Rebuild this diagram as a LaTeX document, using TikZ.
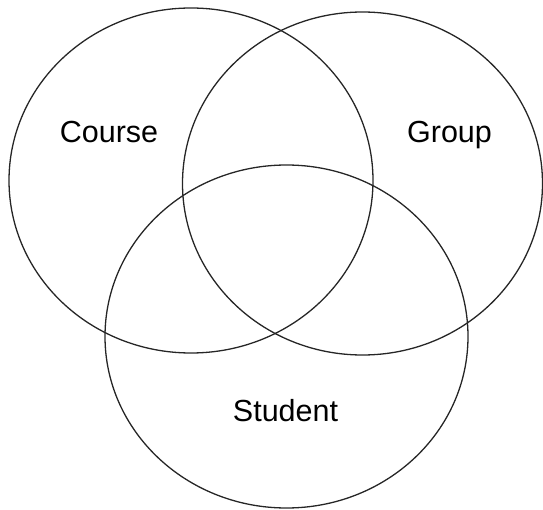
\documentclass[tikz,border=0pt]{standalone}
\usepackage{fontspec}
\setmainfont{Liberation Sans}
\begin{document}
\begin{tikzpicture}[x=1pt,y=-1pt,
  set/.style={draw=black!85,line width=1.3pt},
  lbl/.style={font=\fontsize{30.5}{36}\selectfont,inner sep=0pt,anchor=base}]
\useasboundingbox (0,0) rectangle (543,510);
\draw[set] (191,180.5) ellipse [x radius=182, y radius=172.5];
\draw[set] (362.5,183.5) ellipse [x radius=180, y radius=171.5];
\draw[set] (286.5,336.5) ellipse [x radius=181.5, y radius=171.5];
\node[lbl] (course) at (109,143) {Course};
\node[lbl] (group) at (449.5,143) {Group};
\node[lbl] (student) at (285.5,421) {Student};
\end{tikzpicture}
\end{document}
